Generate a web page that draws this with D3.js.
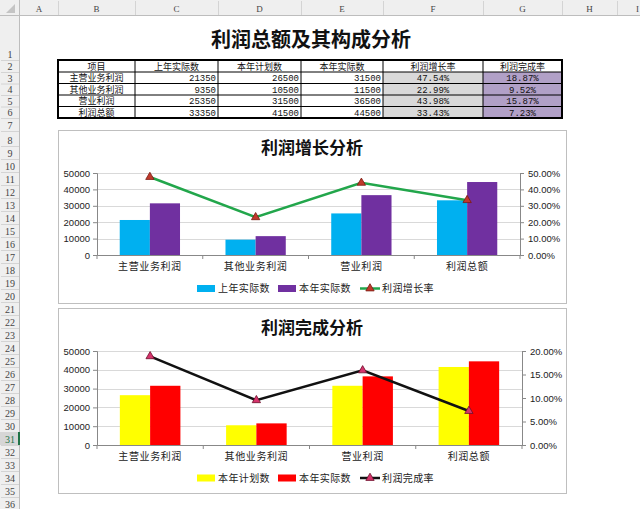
<!DOCTYPE html>
<html>
<head>
<meta charset="utf-8">
<script src="https://cdn.jsdelivr.net/npm/d3@7"></script>
<style>
  body { margin: 0; background: #fff; }
  svg { display: block; }
</style>
</head>
<body>
<svg id="sheet" width="640" height="509"></svg>
<script>
// data
const categories = ["主营业务利润", "其他业务利润", "营业利润", "利润总额"];
const lastYear = [21350, 9350, 25350, 33350];
const planned = [26500, 10500, 31500, 41500];
const actual = [31500, 11500, 36500, 44500];
const growthRate = [0.4754, 0.2299, 0.4398, 0.3343];
const completionRate = [0.1887, 0.0952, 0.1587, 0.0723];

const tableHeaders = ["项目", "上年实际数", "本年计划数", "本年实际数", "利润增长率", "利润完成率"];
const colLetters = ["A", "B", "C", "D", "E", "F", "G", "H", "I"];
const amountTicks = [0, 10000, 20000, 30000, 40000, 50000];
const growthTicks = [0, 0.1, 0.2, 0.3, 0.4, 0.5];
const completionTicks = [0, 0.05, 0.1, 0.15, 0.2];

const svg = d3.select("#sheet");
const cjk = "'Noto Sans CJK SC', sans-serif";
const latin = "'Liberation Sans', 'Noto Sans CJK SC', sans-serif";
const serif = "'Liberation Serif', 'DejaVu Serif', serif";

// sheet geometry
const colEdges = [20, 58, 135, 218, 301, 383, 483, 562, 617, 672];
const rowEdges = [16];
const rowH = [44, 12, 11.5, 11.5, 11.5, 11.5, 13, 15];
for (let i = 0; i < 36; i++) {
    rowEdges.push(rowEdges[i] + (i < rowH.length ? rowH[i] : 13));
}

// column header band
svg.append("rect").attr("x", 0).attr("y", 0).attr("width", 640).attr("height", 16).attr("fill", "#efefef");
svg.append("rect").attr("x", 0).attr("y", 0).attr("width", 20).attr("height", 509).attr("fill", "#efefef");
svg.append("line").attr("x1", 0).attr("x2", 640).attr("y1", 15.5).attr("y2", 15.5).attr("stroke", "#bdbdbd");
svg.append("line").attr("x1", 19.5).attr("x2", 19.5).attr("y1", 0).attr("y2", 509).attr("stroke", "#bdbdbd");
svg.append("path").attr("d", "M15,4 L15,13 L6,13 Z").attr("fill", "#c4c4c4");

colLetters.forEach((c, i) => {
    const x0 = colEdges[i], x1 = colEdges[i + 1];
    svg.append("line").attr("x1", x1 + 0.5).attr("x2", x1 + 0.5).attr("y1", 1).attr("y2", 15)
        .attr("stroke", "#d4d4d4");
    // last column is only partly on screen
    const last = i === colLetters.length - 1;
    svg.append("text").attr("x", last ? 639 : (x0 + x1) / 2).attr("y", 11.5)
        .attr("text-anchor", last ? "end" : "middle")
        .style("font", `9px ${serif}`).attr("fill", "#444").text(c);
});

for (let r = 1; r <= 36; r++) {
    const y0 = rowEdges[r - 1], y1 = rowEdges[r];
    const sel = r === 31;
    if (sel) {
        svg.append("rect").attr("x", 0).attr("y", y0).attr("width", 19).attr("height", y1 - y0).attr("fill", "#d6d6d6");
        svg.append("line").attr("x1", 19).attr("x2", 19).attr("y1", y0).attr("y2", y1)
            .attr("stroke", "#217346").attr("stroke-width", 2);
    }
    svg.append("line").attr("x1", 1).attr("x2", 19).attr("y1", y1 + 0.5).attr("y2", y1 + 0.5).attr("stroke", "#d4d4d4");
    svg.append("text").attr("x", 10).attr("y", y1 - 2).attr("text-anchor", "middle")
        .style("font", `10px ${serif}`).attr("fill", sel ? "#217346" : "#444").text(r);
}

// main title
svg.append("text").attr("x", 311).attr("y", 47).attr("text-anchor", "middle")
    .style("font", `bold 20px ${cjk}`).attr("fill", "#111").text("利润总额及其构成分析");

// table
const fmtPct = d3.format(".2%");
const tableRows = categories.map((c, i) => [c, lastYear[i], planned[i], actual[i], fmtPct(growthRate[i]), fmtPct(completionRate[i])]);
const tTop = rowEdges[1], tBottom = rowEdges[6];
const tLeft = colEdges[1], tRight = colEdges[7];
const fills = [null, null, null, null, "#d9d9d9", "#b1a0c7"];
const tableFont = `9px 'Liberation Mono', 'Noto Sans CJK SC', monospace`;

tableRows.forEach((row, ri) => {
    const y0 = rowEdges[ri + 2], y1 = rowEdges[ri + 3];
    row.forEach((v, ci) => {
        const x0 = colEdges[ci + 1], x1 = colEdges[ci + 2];
        if (fills[ci]) svg.append("rect").attr("x", x0).attr("y", y0).attr("width", x1 - x0).attr("height", y1 - y0).attr("fill", fills[ci]);
        const right = ci >= 1 && ci <= 3;
        svg.append("text").attr("x", right ? x1 - 2 : (x0 + x1) / 2).attr("y", (y0 + y1) / 2 + 3.5)
            .attr("text-anchor", right ? "end" : "middle")
            .style("font", tableFont).attr("fill", "#111").text(v);
    });
});
tableHeaders.forEach((h, ci) => {
    const x0 = colEdges[ci + 1], x1 = colEdges[ci + 2];
    svg.append("text").attr("x", (x0 + x1) / 2).attr("y", (rowEdges[1] + rowEdges[2]) / 2 + 3.5)
        .attr("text-anchor", "middle").style("font", tableFont).attr("fill", "#111").text(h);
});
for (let r = 2; r <= 5; r++) {
    svg.append("line").attr("x1", tLeft).attr("x2", tRight).attr("y1", rowEdges[r]).attr("y2", rowEdges[r]).attr("stroke", "#000").attr("stroke-width", 1);
}
for (let c = 2; c <= 6; c++) {
    svg.append("line").attr("x1", colEdges[c]).attr("x2", colEdges[c]).attr("y1", tTop).attr("y2", tBottom).attr("stroke", "#000").attr("stroke-width", 1);
}
svg.append("rect").attr("x", tLeft).attr("y", tTop).attr("width", tRight - tLeft).attr("height", tBottom - tTop)
    .attr("fill", "none").attr("stroke", "#000").attr("stroke-width", 2);

// charts
function drawChart(cfg) {
    const g = svg.append("g");
    g.append("rect").attr("x", cfg.box[0] + 0.5).attr("y", cfg.box[1] + 0.5).attr("width", cfg.box[2]).attr("height", cfg.box[3])
        .attr("fill", "#fff").attr("stroke", "#bfbfbf");
    g.append("text").attr("x", 312).attr("y", cfg.titleY).attr("text-anchor", "middle")
        .style("font", `bold 17px ${cjk}`).attr("fill", "#111").text(cfg.title);

    const p = cfg.plot;
    const x0 = d3.scaleBand().domain(categories).range([p.l, p.r]);
    const bw = x0.bandwidth();
    const x1 = d3.scaleBand().domain([0, 1]).range([bw * 0.215, bw * 0.785]);
    const y = d3.scaleLinear().domain([0, 50000]).range([p.b, p.t]);
    const yR = d3.scaleLinear().domain(cfg.rateDomain).range([p.b, p.t]);

    // gridlines
    g.selectAll(".grid").data(amountTicks.slice(1)).enter().append("line")
        .attr("x1", p.l).attr("x2", p.r).attr("y1", d => Math.round(y(d)) + 0.5).attr("y2", d => Math.round(y(d)) + 0.5)
        .attr("stroke", "#d9d9d9");

    // bars
    [cfg.series[0], cfg.series[1]].forEach((s, si) => {
        g.selectAll(".bar" + si).data(s.values).enter().append("rect")
            .attr("x", (d, i) => x0(categories[i]) + x1(si))
            .attr("y", d => y(d))
            .attr("width", x1.bandwidth())
            .attr("height", d => y(0) - y(d))
            .attr("fill", s.color);
    });

    // axes
    const axL = g.append("g").attr("transform", `translate(${p.l},0)`)
        .call(d3.axisLeft(y).tickValues(amountTicks).tickSize(4).tickPadding(3).tickFormat(d3.format("d")));
    const axR = g.append("g").attr("transform", `translate(${p.r},0)`)
        .call(d3.axisRight(yR).tickValues(cfg.rateTicks).tickSize(4).tickPadding(4).tickFormat(fmtPct));
    const axB = g.append("g").attr("transform", `translate(0,${p.b})`)
        .call(d3.axisBottom(x0).tickSize(0).tickPadding(8));
    [axL, axR].forEach(a => {
        a.selectAll("text").style("font", `9.5px ${latin}`).attr("fill", "#222");
    });
    axB.selectAll("text").style("font", `10px ${cjk}`).style("letter-spacing", "0.6px").attr("fill", "#222");
    [axL, axR, axB].forEach(a => {
        a.select(".domain").attr("stroke", "#888");
        a.selectAll(".tick line").attr("stroke", "#888");
    });
    const bounds = categories.map(c => x0(c)).concat([p.r]);
    g.selectAll(".ctick").data(bounds).enter().append("line")
        .attr("x1", d => d).attr("x2", d => d).attr("y1", p.b).attr("y2", p.b + 4).attr("stroke", "#888");

    // rate line
    const lineS = cfg.series[2];
    const line = d3.line().x((d, i) => x0(categories[i]) + bw / 2).y(d => yR(d));
    g.append("path").datum(lineS.values).attr("d", line).attr("fill", "none")
        .attr("stroke", lineS.color).attr("stroke-width", 2.5);
    const tri = d3.symbol(d3.symbolTriangle, 30);
    g.selectAll(".mk").data(lineS.values).enter().append("path").attr("d", tri)
        .attr("transform", (d, i) => `translate(${x0(categories[i]) + bw / 2},${yR(d)})`)
        .attr("fill", lineS.marker).attr("stroke", lineS.markerStroke).attr("stroke-width", 0.8);

    // legend
    const ly = cfg.legendY;
    const lx = [197, 278, 360];
    cfg.series.forEach((s, i) => {
        if (i < 2) {
            g.append("rect").attr("x", lx[i]).attr("y", ly - 3.5).attr("width", 18).attr("height", 7).attr("fill", s.color);
        } else {
            g.append("line").attr("x1", lx[i]).attr("x2", lx[i] + 20).attr("y1", ly).attr("y2", ly)
                .attr("stroke", s.color).attr("stroke-width", 2.5);
            g.append("path").attr("d", tri).attr("transform", `translate(${lx[i] + 10},${ly})`)
                .attr("fill", s.marker).attr("stroke", s.markerStroke).attr("stroke-width", 0.8);
        }
        g.append("text").attr("x", lx[i] + (i < 2 ? 21 : 22)).attr("y", ly + 3.5)
            .style("font", `10px ${cjk}`).style("letter-spacing", "0.4px").attr("fill", "#222").text(s.name);
    });
}

drawChart({
    box: [58, 130, 508, 173],
    title: "利润增长分析",
    titleY: 154,
    plot: { l: 97, r: 520, t: 173, b: 255 },
    rateDomain: [0, 0.5],
    rateTicks: growthTicks,
    legendY: 288.5,
    series: [
        { name: "上年实际数", values: lastYear, color: "#00b0f0" },
        { name: "本年实际数", values: actual, color: "#7030a0" },
        { name: "利润增长率", values: growthRate, color: "#22a64b", marker: "#c0392b", markerStroke: "#7a1a12" }
    ]
});

drawChart({
    box: [58, 308, 508, 185],
    title: "利润完成分析",
    titleY: 334,
    plot: { l: 97, r: 522, t: 351, b: 445 },
    rateDomain: [0, 0.2],
    rateTicks: completionTicks,
    legendY: 478,
    series: [
        { name: "本年计划数", values: planned, color: "#ffff00" },
        { name: "本年实际数", values: actual, color: "#ff0000" },
        { name: "利润完成率", values: completionRate, color: "#111", marker: "#d6336c", markerStroke: "#6b0f2a" }
    ]
});
</script>
</body>
</html>
